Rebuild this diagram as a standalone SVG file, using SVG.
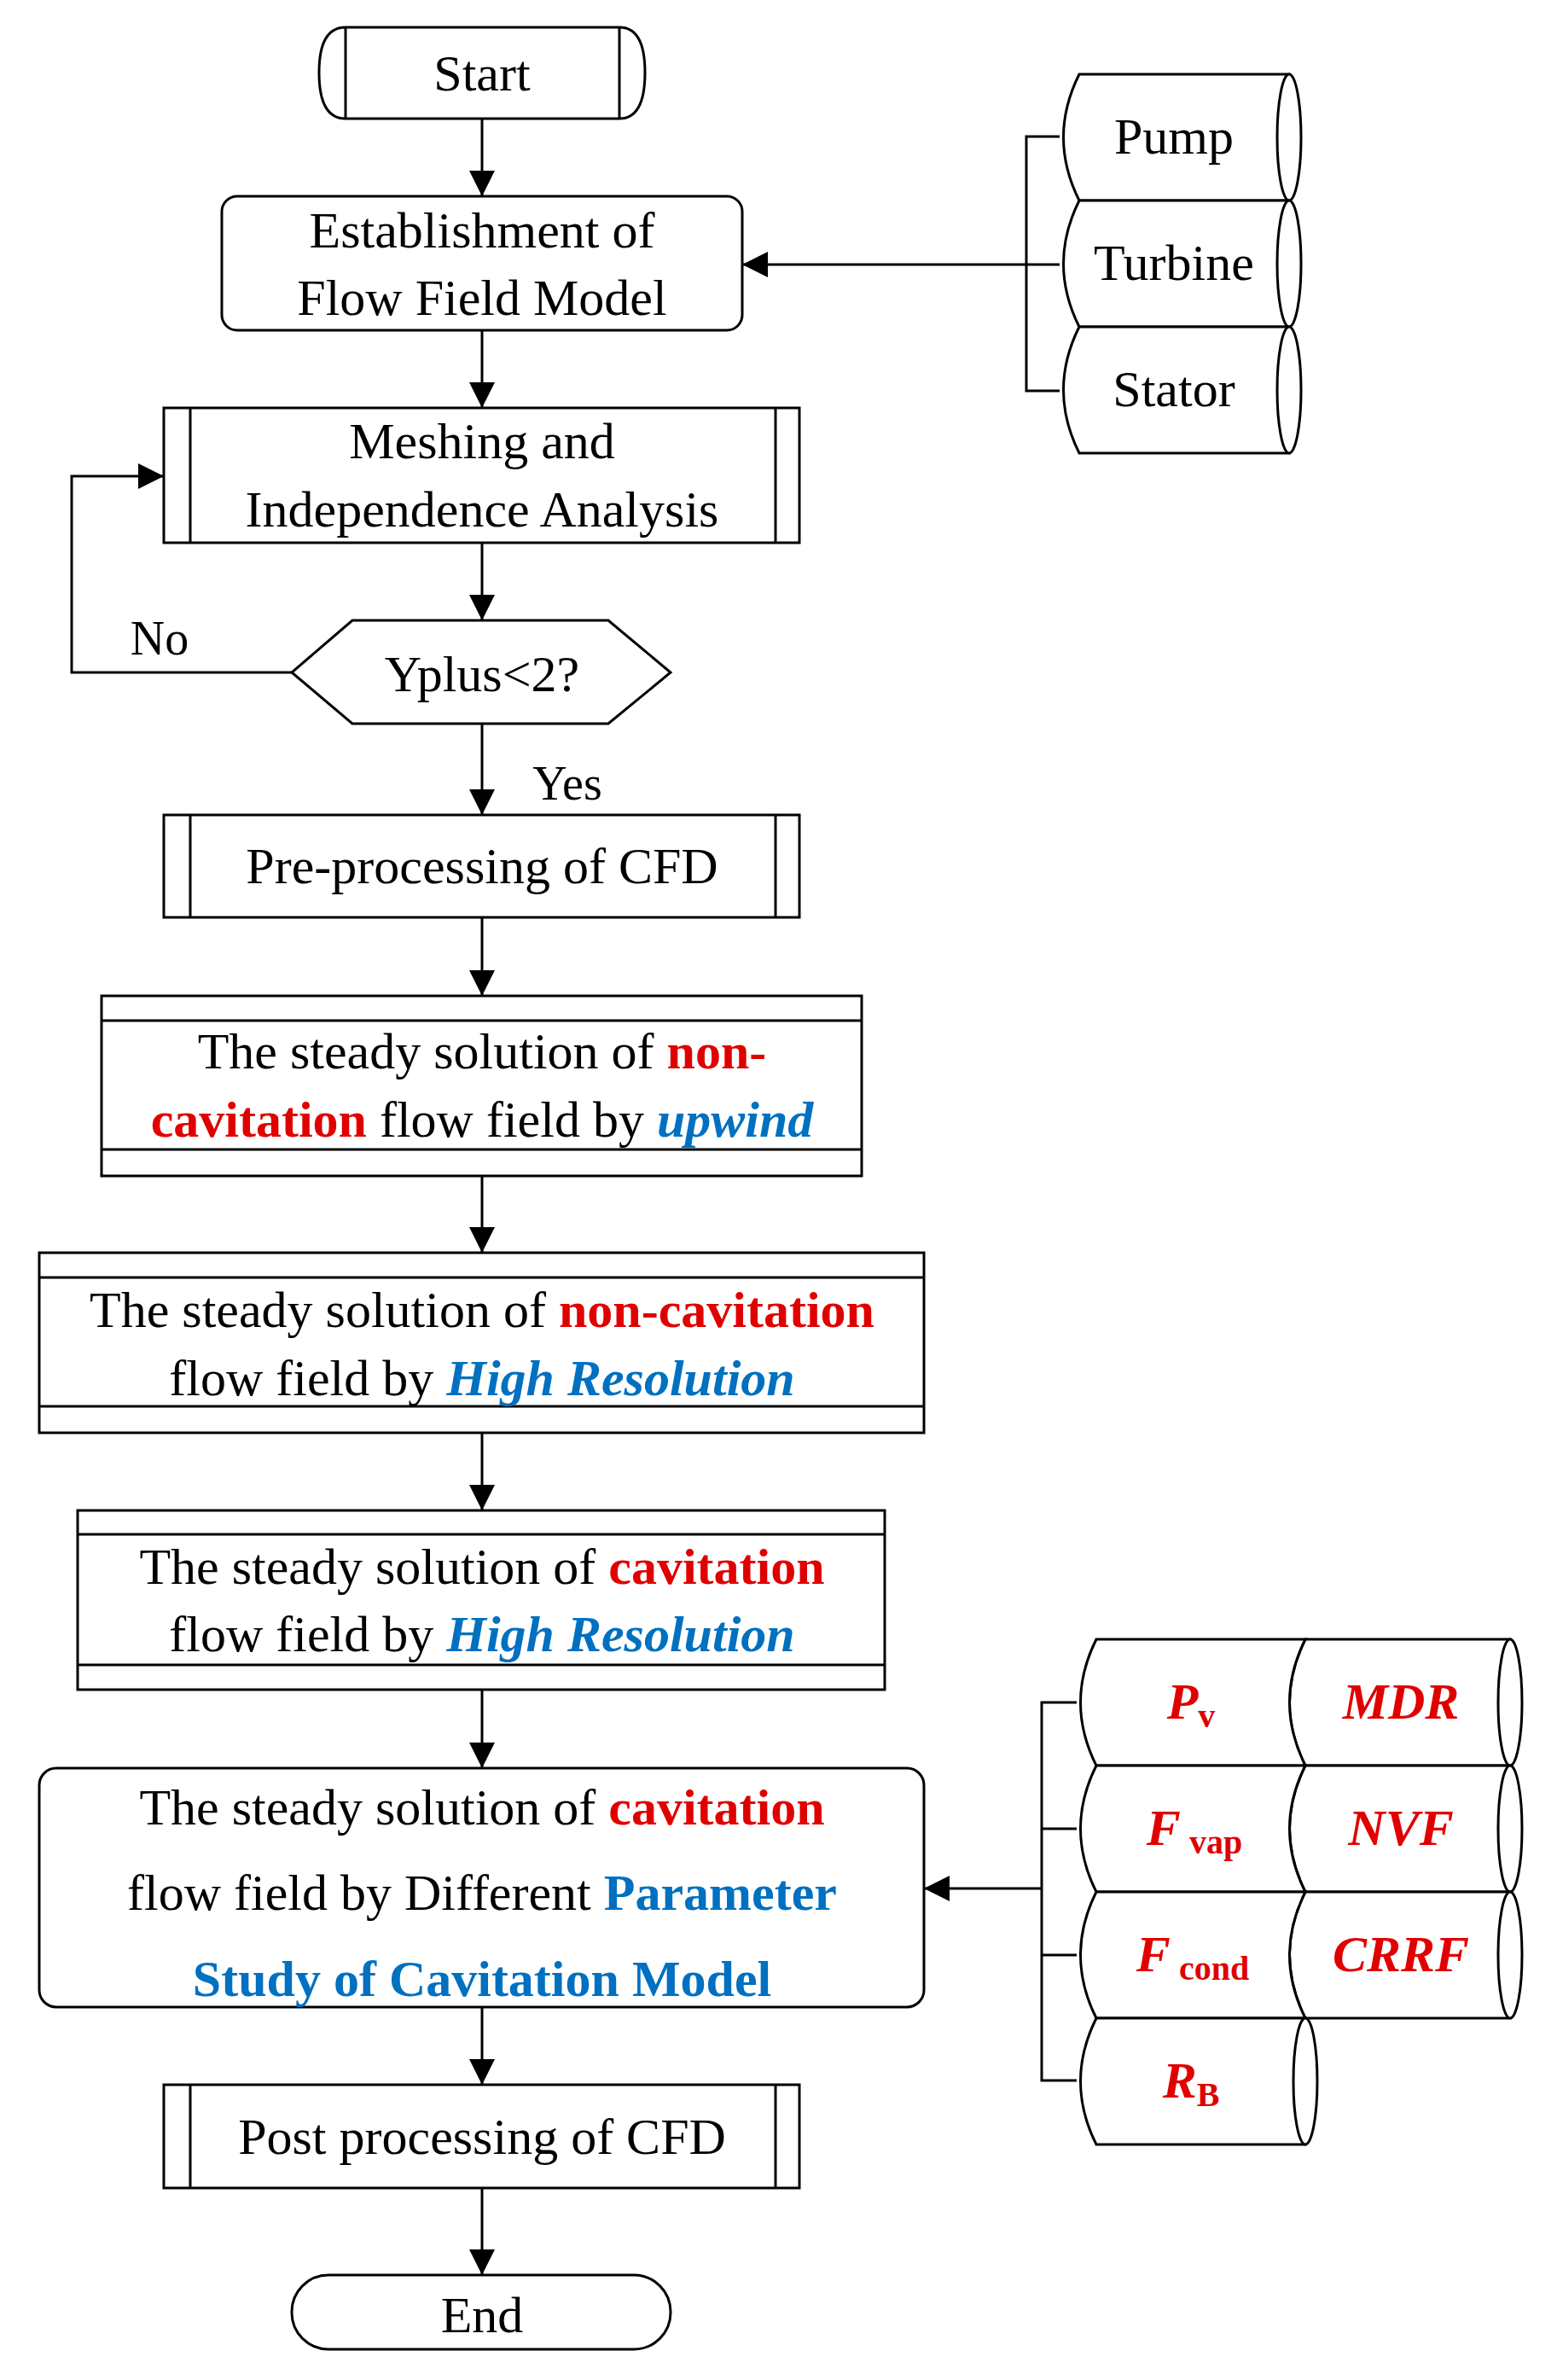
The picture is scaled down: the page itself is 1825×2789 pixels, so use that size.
<svg xmlns="http://www.w3.org/2000/svg" width="1825" height="2789" viewBox="0 0 1825 2789">
<style>
.s{fill:#fff;stroke:#000;stroke-width:3}
.l{fill:none;stroke:#000;stroke-width:3}
text{font-family:"Liberation Serif","Times New Roman",serif;font-size:60px;fill:#000;text-anchor:middle}
.r{fill:#E00000;font-weight:bold}
.b{fill:#0070C0;font-weight:bold}
.i{font-style:italic}
.sub{font-size:40px}
</style>
<defs>
<marker id="a" markerWidth="12" markerHeight="12" refX="11" refY="6" orient="auto" markerUnits="userSpaceOnUse"><path d="M0,0 L0,0 L12,6 L0,12 z" fill="#000" transform="scale(1)"/></marker>
<marker id="ah" viewBox="0 0 10 10" refX="10" refY="5" markerWidth="30" markerHeight="30" orient="auto" markerUnits="userSpaceOnUse"><path d="M0,0 L10,5 L0,10 z" fill="#000"/></marker>
</defs>
<g id="connectors">
<path class="l" d="M565,139 V230" marker-end="url(#ah)"/>
<path class="l" d="M565,387 V478" marker-end="url(#ah)"/>
<path class="l" d="M565,636 V727" marker-end="url(#ah)"/>
<path class="l" d="M565,848 V955" marker-end="url(#ah)"/>
<path class="l" d="M565,1075 V1167" marker-end="url(#ah)"/>
<path class="l" d="M565,1378 V1468" marker-end="url(#ah)"/>
<path class="l" d="M565,1679 V1770" marker-end="url(#ah)"/>
<path class="l" d="M565,1980 V2072" marker-end="url(#ah)"/>
<path class="l" d="M565,2352 V2443" marker-end="url(#ah)"/>
<path class="l" d="M565,2564 V2666" marker-end="url(#ah)"/>
<path class="l" d="M342,788 H84 V558 H192" marker-end="url(#ah)"/>
<path class="l" d="M1242,160 H1203 V458 H1242 M1203,310 H1242"/>
<path class="l" d="M1203,310 H870" marker-end="url(#ah)"/>
<path class="l" d="M1262,1995 H1221 V2438 H1262 M1221,2143 H1262 M1221,2291 H1262"/>
<path class="l" d="M1221,2213 H1083" marker-end="url(#ah)"/>
<text x="187" y="767" style="font-size:56px">No</text>
<text x="665" y="937" style="font-size:56px">Yes</text>
</g>
<g id="start">
<path class="s" d="M405,32 H726 Q756,32 756,85 Q756,139 726,139 H405 Q374,139 374,85 Q374,32 405,32 Z"/>
<path class="l" d="M405,32 V139 M726,32 V139"/>
<text x="565" y="106">Start</text>
</g>
<g id="establish">
<rect class="s" x="260" y="230" width="610" height="157" rx="18"/>
<text x="565" y="290">Establishment of</text>
<text x="565" y="369">Flow Field Model</text>
</g>
<g id="meshing">
<rect class="s" x="192" y="478" width="745" height="158"/>
<path class="l" d="M223,478 V636 M909,478 V636"/>
<text x="565" y="537">Meshing and</text>
<text x="565" y="617">Independence Analysis</text>
</g>
<g id="yplus">
<path class="s" d="M413,727 H713 L786,788 L713,848 H413 L342,788 Z"/>
<text x="565" y="810">Yplus&lt;2?</text>
</g>
<g id="pre">
<rect class="s" x="192" y="955" width="745" height="120"/>
<path class="l" d="M223,955 V1075 M909,955 V1075"/>
<text x="565" y="1035">Pre-processing of CFD</text>
</g>
<g id="upwind">
<rect class="s" x="119" y="1167" width="891" height="211"/>
<path class="l" d="M119,1196 H1010 M119,1347 H1010"/>
<text x="565" y="1252">The steady solution of <tspan class="r">non-</tspan></text>
<text x="565" y="1332"><tspan class="r">cavitation</tspan> flow field by <tspan class="b i">upwind</tspan></text>
</g>
<g id="hr1">
<rect class="s" x="46" y="1468" width="1037" height="211"/>
<path class="l" d="M46,1497 H1083 M46,1648 H1083"/>
<text x="565" y="1555">The steady solution of <tspan class="r">non-cavitation</tspan></text>
<text x="565" y="1635">flow field by <tspan class="b i">High Resolution</tspan></text>
</g>
<g id="hr2">
<rect class="s" x="91" y="1770" width="946" height="210"/>
<path class="l" d="M91,1798 H1037 M91,1951 H1037"/>
<text x="565" y="1856">The steady solution of <tspan class="r">cavitation</tspan></text>
<text x="565" y="1935">flow field by <tspan class="b i">High Resolution</tspan></text>
</g>
<g id="param">
<rect class="s" x="46" y="2072" width="1037" height="280" rx="20"/>
<text x="565" y="2138">The steady solution of <tspan class="r">cavitation</tspan></text>
<text x="565" y="2238">flow field by Different <tspan class="b">Parameter</tspan></text>
<text x="565" y="2339"><tspan class="b">Study of Cavitation Model</tspan></text>
</g>
<g id="post">
<rect class="s" x="192" y="2443" width="745" height="121"/>
<path class="l" d="M223,2443 V2564 M909,2443 V2564"/>
<text x="565" y="2524">Post processing of CFD</text>
</g>
<g id="end">
<rect class="s" x="342" y="2666" width="444" height="87" rx="43"/>
<text x="565" y="2733">End</text>
</g>
<g id="pump">
<path class="s" d="M1265,87 H1511 V235 H1265 Q1228,161 1265,87 Z"/>
<ellipse class="s" cx="1511" cy="161" rx="14" ry="74"/>
<text x="1376" y="180">Pump</text>
</g>
<g id="turbine">
<path class="s" d="M1265,235 H1511 V383 H1265 Q1228,309 1265,235 Z"/>
<ellipse class="s" cx="1511" cy="309" rx="14" ry="74"/>
<text x="1376" y="328">Turbine</text>
</g>
<g id="stator">
<path class="s" d="M1265,383 H1511 V531 H1265 Q1228,457 1265,383 Z"/>
<ellipse class="s" cx="1511" cy="457" rx="14" ry="74"/>
<text x="1376" y="476">Stator</text>
</g>
<g id="p-mdr">
<path class="s" d="M1530,1921 H1770 V2069 H1530 Q1493,1995 1530,1921 Z"/>
<ellipse class="s" cx="1770" cy="1995" rx="14" ry="74"/>
<text x="1642" y="2014" class="r i">MDR</text>
</g>
<g id="p-pv">
<path class="s" d="M1285,1921 H1530 Q1493,1995 1530,2069 H1285 Q1248,1995 1285,1921 Z"/>
<text x="1396" y="2014"><tspan class="r i">P</tspan><tspan class="r sub" dy="10">v</tspan></text>
</g>
<g id="p-nvf">
<path class="s" d="M1530,2069 H1770 V2217 H1530 Q1493,2143 1530,2069 Z"/>
<ellipse class="s" cx="1770" cy="2143" rx="14" ry="74"/>
<text x="1642" y="2162" class="r i">NVF</text>
</g>
<g id="p-fvap">
<path class="s" d="M1285,2069 H1530 Q1493,2143 1530,2217 H1285 Q1248,2143 1285,2069 Z"/>
<text x="1400" y="2162"><tspan class="r i">F</tspan><tspan class="r sub" dy="10"> vap</tspan></text>
</g>
<g id="p-crrf">
<path class="s" d="M1530,2217 H1770 V2365 H1530 Q1493,2291 1530,2217 Z"/>
<ellipse class="s" cx="1770" cy="2291" rx="14" ry="74"/>
<text x="1642" y="2310" class="r i">CRRF</text>
</g>
<g id="p-fcond">
<path class="s" d="M1285,2217 H1530 Q1493,2291 1530,2365 H1285 Q1248,2291 1285,2217 Z"/>
<text x="1398" y="2310"><tspan class="r i">F</tspan><tspan class="r sub" dy="10"> cond</tspan></text>
</g>
<g id="p-rb">
<path class="s" d="M1285,2365 H1530 V2513 H1285 Q1248,2439 1285,2365 Z"/>
<ellipse class="s" cx="1530" cy="2439" rx="14" ry="74"/>
<text x="1396" y="2458"><tspan class="r i">R</tspan><tspan class="r sub" dy="10">B</tspan></text>
</g>
</svg>
